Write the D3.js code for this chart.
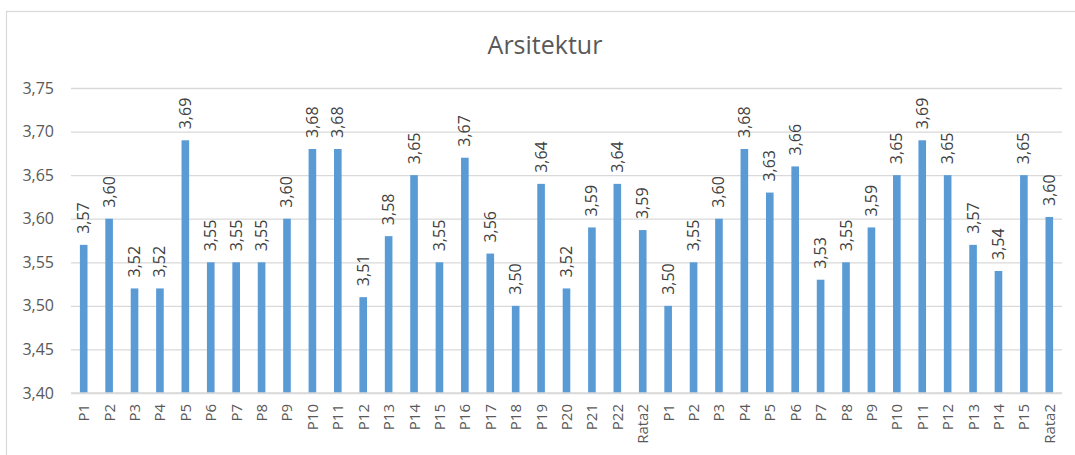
<!DOCTYPE html>
<html>
<head>
<meta charset="utf-8">
<script src="https://cdn.jsdelivr.net/npm/d3@7"></script>
<style>
  body { margin: 0; background: #fff; }
  svg { display: block; font-family: "Open Sans", "Noto Sans", sans-serif; }
</style>
</head>
<body>
<div class="chart"></div>
<script>
        // categories (two groups, each ending with its average)
        var categories = ["P1", "P2", "P3", "P4", "P5", "P6", "P7", "P8", "P9", "P10", "P11",
            "P12", "P13", "P14", "P15", "P16", "P17", "P18", "P19", "P20", "P21", "P22", "Rata2",
            "P1", "P2", "P3", "P4", "P5", "P6", "P7", "P8", "P9", "P10", "P11", "P12", "P13",
            "P14", "P15", "Rata2"];
        var values = [3.57, 3.60, 3.52, 3.52, 3.69, 3.55, 3.55, 3.55, 3.60, 3.68, 3.68,
            3.51, 3.58, 3.65, 3.55, 3.67, 3.56, 3.50, 3.64, 3.52, 3.59, 3.64, 3.587,
            3.50, 3.55, 3.60, 3.68, 3.63, 3.66, 3.53, 3.55, 3.59, 3.65, 3.69, 3.65, 3.57,
            3.54, 3.65, 3.602];
        var yTicks = [3.40, 3.45, 3.50, 3.55, 3.60, 3.65, 3.70, 3.75];
        var title = "Arsitektur";

        var W = 1075, H = 455;
        var data = categories.map(function (c, i) {
            return { key: i, cat: c, value: values[i] };
        });

        var fmt = function (v) { return d3.format(".2f")(v).replace(".", ","); };

        var svg = d3.select(".chart")
            .append("svg")
            .attr("width", W)
            .attr("height", H);

        // chart frame (runs off the right and bottom edges)
        svg.append("rect")
            .attr("x", 6.5)
            .attr("y", 11.5)
            .attr("width", 1100)
            .attr("height", 500)
            .attr("fill", "#fff")
            .attr("stroke", "#d9d9d9")
            .attr("stroke-width", 1.2);

        // title
        svg.append("text")
            .attr("x", 545)
            .attr("y", 54)
            .attr("text-anchor", "middle")
            .attr("font-size", "25px")
            .attr("fill", "#595959")
            .text(title);

        // scales
        var x = d3.scaleBand()
            .domain(data.map(function (d) { return d.key; }))
            .range([71, 1062])
            .paddingInner(0.7)
            .paddingOuter(0.35);

        var y = d3.scaleLinear()
            .domain([3.40, 3.75])
            .range([393, 88]);

        // gridlines + y labels
        var yAxis = svg.append("g")
            .attr("transform", "translate(71,0)")
            .call(d3.axisLeft(y).tickValues(yTicks).tickSize(-(1062 - 71)).tickPadding(17).tickFormat(fmt));
        yAxis.select(".domain").remove();
        yAxis.selectAll(".tick line")
            .attr("stroke", "#d9d9d9")
            .attr("stroke-width", 1.3);
        yAxis.selectAll(".tick text")
            .attr("fill", "#595959")
            .attr("font-size", "16px")
            .attr("font-family", "\"Open Sans\", sans-serif");

        // bars
        svg.selectAll("rect.bar")
            .data(data)
            .join("rect")
            .attr("class", "bar")
            .attr("x", function (d) { return x(d.key); })
            .attr("width", x.bandwidth())
            .attr("y", function (d) { return y(d.value); })
            .attr("height", function (d) { return y(3.40) - y(d.value); })
            .attr("fill", "#5b9bd5");

        // baseline
        svg.append("line")
            .attr("x1", 71).attr("x2", 1062)
            .attr("y1", y(3.40)).attr("y2", y(3.40))
            .attr("stroke", "#d9d9d9")
            .attr("stroke-width", 1.3);

        // value labels (rotated)
        svg.selectAll("text.val")
            .data(data)
            .join("text")
            .attr("class", "val")
            .attr("transform", function (d) {
                var cx = x(d.key) + x.bandwidth() / 2;
                return "translate(" + (cx + 5.5) + "," + (y(d.value) - 11) + ") rotate(-90)";
            })
            .attr("font-size", "16px")
            .attr("fill", "#404040")
            .text(function (d) { return fmt(d.value); });

        // category labels (rotated)
        svg.selectAll("text.cat")
            .data(data)
            .join("text")
            .attr("class", "cat")
            .attr("transform", function (d) {
                var cx = x(d.key) + x.bandwidth() / 2;
                return "translate(" + (cx + 5.5) + "," + 404 + ") rotate(-90)";
            })
            .attr("text-anchor", "end")
            .attr("font-size", "15px")
            .attr("fill", "#595959")
            .text(function (d) { return d.cat; });
</script>
</body>
</html>
